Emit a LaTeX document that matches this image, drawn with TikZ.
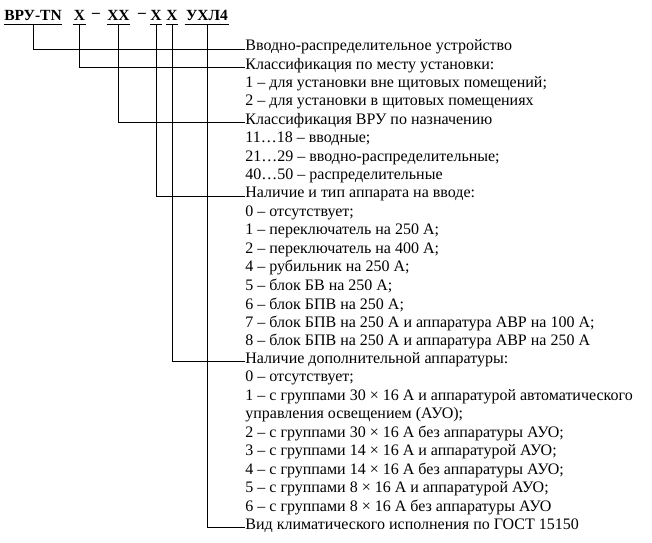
\documentclass[tikz,border=0pt]{standalone}
\usepackage{fontspec}
\setmainfont{Liberation Serif}
\begin{document}
\begin{tikzpicture}[x=1pt,y=-1pt,thick,line width=0.8pt,
  code/.style={font=\fontsize{15.5}{18}\selectfont\bfseries,inner sep=0pt,anchor=south,
    minimum height=16pt,text depth=0pt},
  item/.style={font=\fontsize{16}{18}\selectfont,inner sep=0pt,anchor=west}]
\useasboundingbox (0,0) rectangle (652,542);
%% code line
\node[code,minimum width=58pt] (h1) at (33,24) {ВРУ-TN};
\node[code,minimum width=13pt] (h2) at (79.5,24) {Х};
\node[code] (d1) at (96,24) {–};
\node[code,minimum width=23pt] (h3) at (118.5,24) {ХХ};
\node[code] (d2) at (142,24) {–};
\node[code,minimum width=10pt] (h4) at (156,24) {Х};
\node[code,minimum width=12pt] (h5) at (172,24) {Х};
\node[code,minimum width=44pt] (h6) at (207,24) {УХЛ4};
\foreach \h in {h1,h2,h3,h4,h5,h6}
  \draw (\h.south west) -- (\h.south east);
%% explanations
\foreach \txt [count=\i] in {
  Вводно-распределительное устройство,
  Классификация по месту установки:,
  1 – для установки вне щитовых помещений;,
  2 – для установки в щитовых помещениях,
  Классификация ВРУ по назначению,
  11…18 – вводные;,
  21…29 – вводно-распределительные;,
  40…50 – распределительные,
  Наличие и тип аппарата на вводе:,
  0 – отсутствует;,
  1 – переключатель на 250 А;,
  2 – переключатель на 400 А;,
  4 – рубильник на 250 А;,
  5 – блок БВ на 250 А;,
  6 – блок БПВ на 250 А;,
  7 – блок БПВ на 250 А и аппаратура АВР на 100 А;,
  8 – блок БПВ на 250 А и аппаратура АВР на 250 А,
  Наличие дополнительной аппаратуры:,
  0 – отсутствует;,
  1 – с группами 30 × 16 А и аппаратурой автоматического,
  управления освещением (АУО);,
  2 – с группами 30 × 16 А без аппаратуры АУО;,
  3 – с группами 14 × 16 А и аппаратурой АУО;,
  4 – с группами 14 × 16 А без аппаратуры АУО;,
  5 – с группами 8 × 16 А и аппаратурой АУО;,
  6 – с группами 8 × 16 А без аппаратуры АУО,
  Вид климатического исполнения по ГОСТ 15150}
  \node[item] (l\i) at (245,{47+18.4*(\i-1)}) {\txt};
%% leaders
\draw (h1.south) |- ([yshift=-2pt]l1.west);
\draw (h2.south) |- ([yshift=-2pt]l2.west);
\draw (h3.south) |- ([yshift=-2pt]l5.west);
\draw (h4.south) |- ([yshift=-2pt]l9.west);
\draw (h5.south) |- ([yshift=-2pt]l18.west);
\draw (h6.south) |- ([yshift=-2pt]l27.west);
\end{tikzpicture}
\end{document}
